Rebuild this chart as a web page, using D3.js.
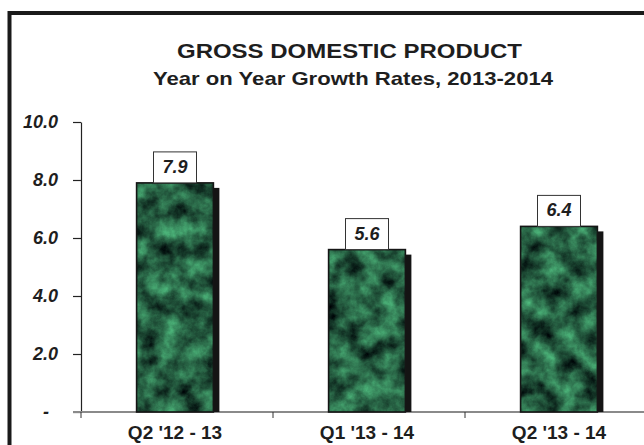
<!DOCTYPE html>
<html>
<head>
<meta charset="utf-8">
<script src="https://cdn.jsdelivr.net/npm/d3@7/dist/d3.min.js"></script>
<style>
  html, body { margin: 0; padding: 0; background: #fff; }
  svg { display: block; }
  text { font-family: "Liberation Sans", Arial, sans-serif; fill: #1e1e1e; }
</style>
</head>
<body>
<svg id="chart" width="644" height="445"></svg>
<script>
// ---- data ----
const categories = ["Q2 '12 - 13", "Q1 '13 - 14", "Q2 '13 - 14"];
const growthRates = [7.9, 5.6, 6.4];
const yTickValues = [0, 2, 4, 6, 8, 10];
const titleText = "GROSS DOMESTIC PRODUCT";
const subtitleText = "Year on Year Growth Rates, 2013-2014";

const data = categories.map((c, i) => ({ cat: c, value: growthRates[i] }));

const svg = d3.select("#chart");
const W = 644, H = 445;

// ---- defs: marble texture ----
const defs = svg.append("defs");
const f = defs.append("filter").attr("id", "marble")
  .attr("x", 0).attr("y", 0).attr("width", 1).attr("height", 1)
  .attr("color-interpolation-filters", "sRGB");
f.append("feTurbulence").attr("type", "fractalNoise")
  .attr("baseFrequency", "0.05").attr("numOctaves", 5).attr("seed", 5).attr("result", "n");
f.append("feColorMatrix").attr("in", "n").attr("type", "matrix")
  .attr("values", "0.42 0 0 0 -0.06  0.95 0 0 0 -0.1  0.62 0 0 0 -0.05  0 0 0 0 1")
  .attr("result", "c");
f.append("feComposite").attr("in", "c").attr("in2", "SourceGraphic").attr("operator", "in");

// ---- frame ----
svg.append("rect")
  .attr("x", 9.5).attr("y", 13).attr("width", 700).attr("height", 500)
  .attr("fill", "#fff").attr("stroke", "#1a1a1a").attr("stroke-width", 4);

// ---- titles ----
svg.append("text").attr("x", 349.5).attr("y", 58).attr("text-anchor", "middle")
  .attr("font-size", 21).attr("font-weight", "bold")
  .attr("textLength", 345).attr("lengthAdjust", "spacingAndGlyphs")
  .text(titleText);
svg.append("text").attr("x", 353).attr("y", 85).attr("text-anchor", "middle")
  .attr("font-size", 19).attr("font-weight", "bold")
  .attr("textLength", 400).attr("lengthAdjust", "spacingAndGlyphs")
  .text(subtitleText);

// ---- scales ----
const axisX = 81;
const y = d3.scaleLinear().domain([0, 10]).range([412, 122]);
const x = d3.scaleBand().domain(categories).range([axisX - 2, axisX - 2 + 576]).padding(0);
const bw = x.bandwidth();
const barW = bw * 0.4;

// ---- y axis ----
const yAxis = d3.axisLeft(y).tickValues(yTickValues).tickSize(8).tickSizeOuter(0).tickPadding(15)
  .tickFormat(d => d === 0 ? "-" : d3.format(".1f")(d));
const yg = svg.append("g").attr("transform", `translate(${axisX},0)`).call(yAxis);
yg.select(".domain").attr("stroke", "#222").attr("stroke-width", 1.2);
yg.selectAll(".tick line").attr("stroke", "#222").attr("stroke-width", 1.2);
yg.selectAll(".tick text")
  .attr("font-size", 18).attr("font-weight", "bold").attr("font-style", "italic")
  .attr("font-family", "'Liberation Sans', Arial, sans-serif").attr("fill", "#1e1e1e");
yg.selectAll(".tick text").filter(d => d === 0).attr("dx", -9);

// ---- x axis line (gray) ----
svg.append("line").attr("x1", axisX - 8).attr("x2", W + 20)
  .attr("y1", y(0)).attr("y2", y(0))
  .attr("stroke", "#8a8a8a").attr("stroke-width", 2);

// boundary ticks between categories
svg.selectAll(".btick").data(categories).join("line")
  .attr("class", "btick")
  .attr("x1", d => x(d) + 2).attr("x2", d => x(d) + 2)
  .attr("y1", y(0)).attr("y2", y(0) + 6)
  .attr("stroke", "#333").attr("stroke-width", 1);

// ---- x axis labels ----
const xAxis = d3.axisBottom(x).tickSize(0).tickPadding(14);
const xg = svg.append("g").attr("transform", `translate(0,${y(0)})`).call(xAxis);
xg.select(".domain").remove();
xg.selectAll(".tick text")
  .attr("font-size", 19).attr("font-weight", "bold")
  .attr("font-family", "'Liberation Sans', Arial, sans-serif").attr("fill", "#1e1e1e");

// ---- bars ----
const barX = d => x(d.cat) + (bw - barW) / 2;
const bars = svg.append("g");
// shadow
bars.selectAll(".shadow").data(data).join("rect").attr("class", "shadow")
  .attr("x", d => barX(d) + 6).attr("y", d => y(d.value) + 5)
  .attr("width", barW).attr("height", d => y(0) - y(d.value) - 5)
  .attr("fill", "#141414");
// marble body
bars.selectAll(".body").data(data).join("rect").attr("class", "body")
  .attr("x", barX).attr("y", d => y(d.value))
  .attr("width", barW).attr("height", d => y(0) - y(d.value))
  .attr("fill", "#2a5e45").attr("filter", "url(#marble)");
// outline
bars.selectAll(".outline").data(data).join("rect").attr("class", "outline")
  .attr("x", barX).attr("y", d => y(d.value))
  .attr("width", barW).attr("height", d => y(0) - y(d.value))
  .attr("fill", "none").attr("stroke", "#151515").attr("stroke-width", 1.6);

// ---- value labels ----
const boxW = 43, boxH = 31;
const lab = svg.append("g").selectAll("g").data(data).join("g")
  .attr("transform", d => `translate(${barX(d) + barW / 2},${y(d.value)})`);
lab.append("rect").attr("x", -boxW / 2).attr("y", -boxH).attr("width", boxW).attr("height", boxH)
  .attr("fill", "#fff").attr("stroke", "#333").attr("stroke-width", 1);
lab.append("text").attr("x", 0).attr("y", -10).attr("text-anchor", "middle")
  .attr("font-size", 18).attr("font-weight", "bold").attr("font-style", "italic")
  .text(d => d3.format(".1f")(d.value));
</script>
</body>
</html>
